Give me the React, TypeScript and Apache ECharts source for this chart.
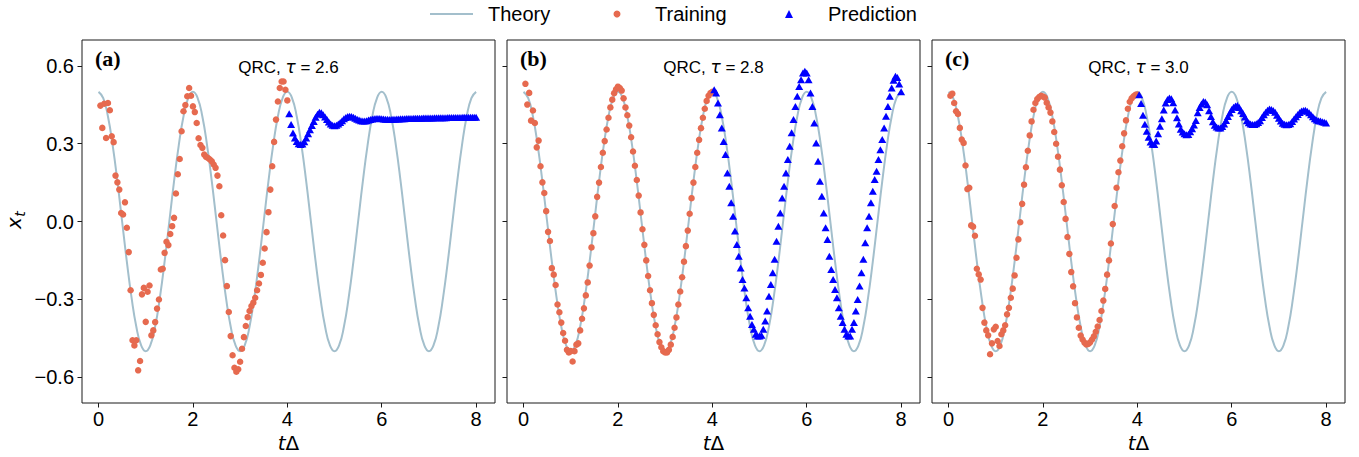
import React, { useEffect, useRef } from "react";
import * as echarts from "echarts";

// ---------------- data ----------------
const TRAIN_DT = 0.04; // sampling step of the training / prediction points
const THEORY_DT = 0.1; // sampling step of the theory curve
const PRED_START = 4.04;

const theoryValues = [
  0.5, 0.476, 0.405, 0.294, 0.155, 0, -0.155, -0.294, -0.405, -0.476,
  -0.5, -0.476, -0.405, -0.294, -0.155, 0, 0.155, 0.294, 0.405, 0.476,
  0.5, 0.476, 0.405, 0.294, 0.155, 0, -0.155, -0.294, -0.405, -0.476,
  -0.5, -0.476, -0.405, -0.294, -0.155, 0, 0.155, 0.294, 0.405, 0.476,
  0.5, 0.476, 0.405, 0.294, 0.155, 0, -0.155, -0.294, -0.405, -0.476,
  -0.5, -0.476, -0.405, -0.294, -0.155, 0, 0.155, 0.294, 0.405, 0.476,
  0.5, 0.476, 0.405, 0.294, 0.155, 0, -0.155, -0.294, -0.405, -0.476,
  -0.5, -0.476, -0.405, -0.294, -0.155, 0, 0.155, 0.294, 0.405, 0.476,
  0.5,
];

const trainA = [
  0.447, 0.361, 0.454, 0.322, 0.457, 0.429, 0.329, 0.306, 0.177, 0.151,
  0.123, 0.033, 0.027, 0.074, -0.024, -0.118, -0.265, -0.458, -0.478, -0.458,
  -0.574, -0.538, -0.281, -0.256, -0.387, -0.271, -0.247, -0.439, -0.42, -0.388,
  -0.336, -0.301, -0.185, -0.182, -0.121, -0.078, -0.091, -0.048, -0.018, 0.014,
  0.108, 0.182, 0.241, 0.348, 0.425, 0.449, 0.483, 0.515, 0.485, 0.444,
  0.422, 0.38, 0.321, 0.295, 0.284, 0.258, 0.249, 0.245, 0.239, 0.232,
  0.22, 0.207, 0.177, 0.136, 0.024, -0.054, -0.149, -0.249, -0.349, -0.442,
  -0.516, -0.564, -0.579, -0.57, -0.541, -0.491, -0.446, -0.403, -0.369, -0.345,
  -0.326, -0.313, -0.294, -0.265, -0.239, -0.206, -0.159, -0.104, -0.041, 0.036,
  0.123, 0.213, 0.307, 0.393, 0.463, 0.515, 0.54, 0.54, 0.508, 0.467,
];

const predA = [
  0.416, 0.374, 0.341, 0.322, 0.309, 0.3, 0.297, 0.299, 0.308, 0.322,
  0.338, 0.354, 0.37, 0.386, 0.402, 0.414, 0.421, 0.419, 0.412, 0.403,
  0.393, 0.384, 0.376, 0.371, 0.369, 0.371, 0.376, 0.382, 0.389, 0.396,
  0.401, 0.405, 0.406, 0.405, 0.402, 0.398, 0.394, 0.391, 0.389, 0.388,
  0.388, 0.389, 0.391, 0.393, 0.395, 0.396, 0.397, 0.397, 0.397, 0.396,
  0.395, 0.394, 0.394, 0.393, 0.393, 0.394, 0.394, 0.395, 0.395, 0.396,
  0.396, 0.396, 0.397, 0.397, 0.397, 0.397, 0.398, 0.398, 0.398, 0.398,
  0.398, 0.399, 0.399, 0.399, 0.399, 0.399, 0.399, 0.4, 0.4, 0.4,
  0.4, 0.4, 0.4, 0.4, 0.401, 0.401, 0.401, 0.401, 0.401, 0.401,
  0.401, 0.401, 0.402, 0.402, 0.402, 0.402, 0.402, 0.402, 0.402, 0.402,
];

const trainB = [
  0.531, 0.451, 0.496, 0.389, 0.428, 0.38, 0.286, 0.312, 0.213, 0.151,
  0.11, 0.04, -0.04, -0.075, -0.18, -0.205, -0.245, -0.32, -0.35, -0.39,
  -0.43, -0.46, -0.495, -0.505, -0.5, -0.54, -0.5, -0.475, -0.47, -0.42,
  -0.375, -0.335, -0.285, -0.235, -0.17, -0.1, -0.045, 0.02, 0.095, 0.15,
  0.21, 0.265, 0.31, 0.355, 0.4, 0.44, 0.47, 0.495, 0.51, 0.52,
  0.515, 0.505, 0.475, 0.44, 0.41, 0.37, 0.325, 0.27, 0.215, 0.16,
  0.1, 0.035, -0.03, -0.09, -0.15, -0.21, -0.265, -0.315, -0.36, -0.4,
  -0.435, -0.465, -0.485, -0.5, -0.505, -0.505, -0.495, -0.475, -0.445, -0.41,
  -0.37, -0.32, -0.27, -0.215, -0.155, -0.095, -0.035, 0.03, 0.09, 0.15,
  0.21, 0.265, 0.315, 0.36, 0.4, 0.435, 0.465, 0.485, 0.495, 0.5,
];

const predB = [
  0.508, 0.496, 0.457, 0.412, 0.361, 0.309, 0.258, 0.187, 0.136, 0.072,
  0.02, -0.037, -0.089, -0.134, -0.179, -0.224, -0.256, -0.294, -0.333, -0.365,
  -0.397, -0.416, -0.435, -0.442, -0.442, -0.439, -0.416, -0.384, -0.345, -0.288,
  -0.243, -0.198, -0.146, -0.076, -0.018, 0.033, 0.091, 0.136, 0.187, 0.239,
  0.29, 0.342, 0.393, 0.444, 0.483, 0.521, 0.547, 0.573, 0.579, 0.573,
  0.547, 0.496, 0.444, 0.38, 0.303, 0.232, 0.155, 0.097, 0.033, -0.024,
  -0.069, -0.134, -0.185, -0.224, -0.262, -0.294, -0.333, -0.365, -0.39, -0.416,
  -0.435, -0.442, -0.442, -0.416, -0.39, -0.345, -0.301, -0.249, -0.198, -0.146,
  -0.082, -0.024, 0.02, 0.072, 0.117, 0.162, 0.194, 0.239, 0.277, 0.316,
  0.361, 0.406, 0.444, 0.483, 0.515, 0.545, 0.56, 0.555, 0.53, 0.5,
];

const trainC = [
  0.485, 0.493, 0.457, 0.425, 0.415, 0.361, 0.316, 0.303, 0.216, 0.125,
  0.13, -0.015, -0.02, -0.055, -0.182, -0.204, -0.224, -0.333, -0.39, -0.42,
  -0.439, -0.512, -0.47, -0.416, -0.406, -0.461, -0.48, -0.435, -0.42, -0.4,
  -0.358, -0.333, -0.294, -0.259, -0.208, -0.14, -0.069, -0.003, 0.068, 0.142,
  0.209, 0.273, 0.332, 0.386, 0.431, 0.457, 0.472, 0.48, 0.485, 0.482,
  0.478, 0.458, 0.44, 0.42, 0.386, 0.345, 0.3, 0.25, 0.2, 0.14,
  0.075, 0.01, -0.06, -0.125, -0.195, -0.25, -0.315, -0.37, -0.41, -0.44,
  -0.455, -0.467, -0.474, -0.472, -0.466, -0.455, -0.443, -0.425, -0.405, -0.38,
  -0.345, -0.305, -0.26, -0.205, -0.15, -0.085, -0.01, 0.06, 0.13, 0.19,
  0.235, 0.29, 0.34, 0.39, 0.435, 0.462, 0.475, 0.483, 0.489, 0.49,
];

const predC = [
  0.489, 0.455, 0.41, 0.375, 0.348, 0.325, 0.307, 0.298, 0.297, 0.31,
  0.338, 0.367, 0.396, 0.43, 0.457, 0.471, 0.476, 0.473, 0.458, 0.43,
  0.4, 0.376, 0.356, 0.345, 0.338, 0.335, 0.336, 0.346, 0.358, 0.372,
  0.39, 0.419, 0.44, 0.453, 0.463, 0.461, 0.45, 0.427, 0.405, 0.385,
  0.371, 0.364, 0.361, 0.361, 0.366, 0.376, 0.39, 0.405, 0.418, 0.432,
  0.441, 0.445, 0.447, 0.44, 0.427, 0.417, 0.403, 0.389, 0.381, 0.376,
  0.374, 0.374, 0.377, 0.382, 0.389, 0.401, 0.412, 0.421, 0.429, 0.434,
  0.432, 0.428, 0.421, 0.41, 0.398, 0.388, 0.379, 0.375, 0.373, 0.374,
  0.377, 0.386, 0.395, 0.404, 0.413, 0.42, 0.426, 0.428, 0.429, 0.425,
  0.419, 0.412, 0.404, 0.396, 0.391, 0.389, 0.388, 0.385, 0.383, 0.38,
];

const panelLabels = ["(a)", "(b)", "(c)"];
const tauLabels = ["2.6", "2.8", "3.0"];
const trainSets = [trainA, trainB, trainC];
const predSets = [predA, predB, predC];
const xTickValues = [0, 2, 4, 6, 8];
const yTickValues = [-0.6, -0.3, 0, 0.3, 0.6];

// ---------------- layout / style ----------------
const GRID_LEFTS = [82, 507, 932];
const GRID_W = 413;
const GRID_TOP = 40;
const GRID_H = 363;
const C_THEORY = "#a3bfcc";
const C_TRAIN = "#e66a4f";
const C_PRED = "#0000ff";
const SANS = "Liberation Sans";
const MATH = "DejaVu Sans";

const fmtY = (v: number) =>
  v < -1e-9 ? "\u2212" + Math.abs(v).toFixed(1) : Math.abs(v).toFixed(1);

function buildOption() {
  const grid = GRID_LEFTS.map((l) => ({
    left: l,
    top: GRID_TOP,
    width: GRID_W,
    height: GRID_H,
    containLabel: false,
    outerBoundsMode: "none",
    show: true,
    borderColor: "#1a1a1a",
    borderWidth: 1,
    backgroundColor: "transparent",
  }));

  const xAxis = GRID_LEFTS.map((_, p) => ({
    type: "value",
    gridIndex: p,
    position: "bottom",
    min: -0.35,
    max: 8.4,
    axisLine: { show: false, onZero: false },
    splitLine: { show: false },
    axisTick: {
      show: true,
      inside: false,
      length: 4.5,
      customValues: xTickValues,
      lineStyle: { color: "#1a1a1a", width: 1 },
    },
    axisLabel: {
      show: true,
      customValues: xTickValues,
      fontSize: 20,
      fontFamily: SANS,
      color: "#000",
      margin: 6,
      formatter: (v: number) => String(Math.round(v)),
    },
  }));

  const yAxis = GRID_LEFTS.map((_, p) => ({
    type: "value",
    gridIndex: p,
    position: "left",
    min: -0.7,
    max: 0.7,
    axisLine: { show: false, onZero: false },
    splitLine: { show: false },
    axisTick: {
      show: true,
      inside: false,
      length: 4.5,
      customValues: yTickValues,
      lineStyle: { color: "#1a1a1a", width: 1 },
    },
    axisLabel: {
      show: p === 0,
      customValues: yTickValues,
      fontSize: 20,
      fontFamily: SANS,
      color: "#000",
      margin: 8,
      formatter: fmtY,
    },
  }));

  const series: any[] = [];
  GRID_LEFTS.forEach((_, p) => {
    series.push({
      name: "Theory",
      type: "line",
      xAxisIndex: p,
      yAxisIndex: p,
      data: theoryValues.map((v, i) => [+(i * THEORY_DT).toFixed(2), v]),
      symbol: "none",
      smooth: true,
      lineStyle: { color: C_THEORY, width: 2 },
      itemStyle: { color: C_THEORY },
      z: 2,
    });
    series.push({
      name: "Training",
      type: "scatter",
      xAxisIndex: p,
      yAxisIndex: p,
      data: trainSets[p].map((v, i) => [+((i + 1) * TRAIN_DT).toFixed(2), v]),
      symbol: "circle",
      symbolSize: 6.5,
      itemStyle: { color: C_TRAIN, opacity: 1 },
      z: 3,
    });
    series.push({
      name: "Prediction",
      type: "scatter",
      xAxisIndex: p,
      yAxisIndex: p,
      data: predSets[p].map((v, i) => [+(PRED_START + i * TRAIN_DT).toFixed(2), v]),
      symbol: "triangle",
      symbolSize: [8, 7],
      itemStyle: { color: C_PRED, opacity: 1 },
      z: 4,
    });
  });

  const legendText = { fontSize: 20, fontFamily: SANS, color: "#000" };
  const LEGEND_TOP = 4;
  const legend = [
    {
      data: [{ name: "Theory", icon: "rect" }],
      left: 430,
      top: LEGEND_TOP,
      padding: 0,
      itemWidth: 43,
      itemHeight: 2,
      selectedMode: false,
      itemStyle: { color: C_THEORY, borderWidth: 0 },
      lineStyle: { width: 0 },
      textStyle: { ...legendText, padding: [0, 0, 0, 10] },
    },
    {
      data: [{ name: "Training", icon: "circle" }],
      left: 613.5,
      top: LEGEND_TOP,
      padding: 0,
      itemWidth: 7,
      itemHeight: 7,
      selectedMode: false,
      itemStyle: { color: C_TRAIN },
      textStyle: { ...legendText, padding: [0, 0, 0, 29.5] },
    },
    {
      data: [{ name: "Prediction", icon: "triangle" }],
      left: 785,
      top: LEGEND_TOP,
      padding: 0,
      itemWidth: 8,
      itemHeight: 8,
      selectedMode: false,
      itemStyle: { color: C_PRED },
      textStyle: { ...legendText, padding: [0, 0, 0, 30] },
    },
  ];

  const graphic: any[] = [];
  GRID_LEFTS.forEach((l, p) => {
    const cx = l + GRID_W / 2;
    graphic.push({
      type: "text",
      x: l + 13,
      y: 58,
      silent: true,
      style: {
        text: panelLabels[p],
        fontSize: 22,
        fontWeight: "bold",
        fontFamily: "Liberation Serif",
        fill: "#000",
        align: "left",
        verticalAlign: "middle",
      },
    });
    graphic.push({
      type: "text",
      x: cx,
      y: 67,
      silent: true,
      style: {
        text: `{n|QRC, }{t|\u03c4}{n| = ${tauLabels[p]}}`,
        align: "center",
        verticalAlign: "middle",
        fill: "#000",
        rich: {
          n: { fontSize: 17, fontFamily: SANS, fill: "#000" },
          t: { fontSize: 17, fontFamily: MATH, fontStyle: "italic", fill: "#000" },
        },
      },
    });
    graphic.push({
      type: "text",
      x: cx,
      y: 443,
      silent: true,
      style: {
        text: "{t|t}{d|\u0394}",
        align: "center",
        verticalAlign: "middle",
        fill: "#000",
        rich: {
          t: { fontSize: 20, fontFamily: MATH, fontStyle: "italic", fill: "#000" },
          d: { fontSize: 20, fontFamily: MATH, fill: "#000" },
        },
      },
    });
  });
  // y-axis name x_t (rotated)
  graphic.push({
    type: "text",
    x: 14,
    y: 223,
    rotation: Math.PI / 2,
    silent: true,
    style: {
      text: "x",
      fontSize: 20,
      fontFamily: MATH,
      fontStyle: "italic",
      fill: "#000",
      align: "center",
      verticalAlign: "middle",
    },
  });
  graphic.push({
    type: "text",
    x: 20,
    y: 214,
    rotation: Math.PI / 2,
    silent: true,
    style: {
      text: "t",
      fontSize: 14,
      fontFamily: MATH,
      fontStyle: "italic",
      fill: "#000",
      align: "center",
      verticalAlign: "middle",
    },
  });

  return {
    animation: false,
    backgroundColor: "#ffffff",
    grid,
    xAxis,
    yAxis,
    series,
    legend,
    graphic,
  };
}

export default function App() {
  const ref = useRef<HTMLDivElement>(null);
  useEffect(() => {
    if (!ref.current) return;
    const chart = echarts.init(ref.current, null, { renderer: "svg" });
    chart.setOption(buildOption() as any);
    return () => chart.dispose();
  }, []);
  return (
    <div
      ref={ref}
      style={{
        position: "fixed",
        left: 0,
        top: 0,
        width: 1359,
        height: 457,
        background: "#fff",
      }}
    />
  );
}
